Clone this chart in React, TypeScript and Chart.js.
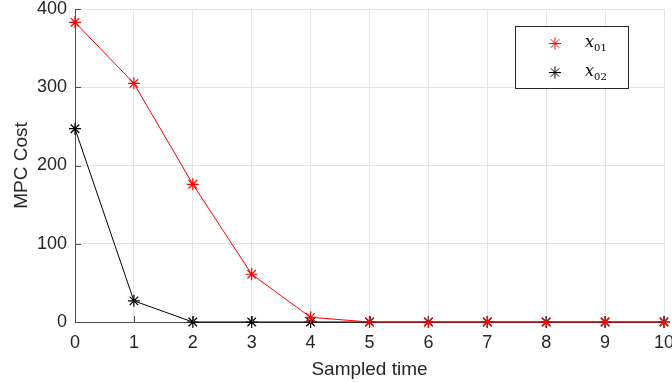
import React, { useEffect, useRef } from "react";
import { Chart, registerables } from "chart.js";

Chart.register(...registerables);

const times = [0, 1, 2, 3, 4, 5, 6, 7, 8, 9, 10];
const x01 = [383, 305, 176, 61, 6, 0, 0, 0, 0, 0, 0];
const x02 = [247, 27, 0, 0, 0, 0, 0, 0, 0, 0, 0];
const legendNames = ["01", "02"];
const seriesColors = ["#ff0000", "#000000"];

const AXIS_COLOR = "#4d4d4d";
const GRID_COLOR = "#e5e5e5";
const TEXT_COLOR = "#262626";

const inwardTicks = {
  id: "inwardTicks",
  afterDraw(chart: any) {
    const { ctx, chartArea, scales } = chart;
    ctx.save();
    ctx.strokeStyle = AXIS_COLOR;
    ctx.lineWidth = 1;
    const xs = scales.x;
    const ys = scales.y;
    xs.ticks.forEach((t: any) => {
      const px = Math.round(xs.getPixelForValue(t.value)) + 0.5;
      ctx.beginPath();
      ctx.moveTo(px, chartArea.bottom);
      ctx.lineTo(px, chartArea.bottom - 6);
      ctx.stroke();
    });
    ys.ticks.forEach((t: any) => {
      const py = Math.round(ys.getPixelForValue(t.value)) + 0.5;
      ctx.beginPath();
      ctx.moveTo(chartArea.left, py);
      ctx.lineTo(chartArea.left + 6, py);
      ctx.stroke();
    });
    ctx.restore();
  },
};

function drawStar(ctx: CanvasRenderingContext2D, x: number, y: number, r: number, color: string) {
  ctx.save();
  ctx.strokeStyle = color;
  ctx.lineWidth = 1;
  ctx.beginPath();
  ctx.moveTo(x - r, y);
  ctx.lineTo(x + r, y);
  ctx.moveTo(x, y - r);
  ctx.lineTo(x, y + r);
  const d = r * Math.SQRT1_2;
  ctx.moveTo(x - d, y - d);
  ctx.lineTo(x + d, y + d);
  ctx.moveTo(x - d, y + d);
  ctx.lineTo(x + d, y - d);
  ctx.stroke();
  ctx.restore();
}

const boxLegend = {
  id: "boxLegend",
  afterDraw(chart: any) {
    const { ctx } = chart;
    const left = 515.5;
    const top = 26.5;
    const w = 113;
    const h = 62;
    ctx.save();
    ctx.fillStyle = "#ffffff";
    ctx.fillRect(left, top, w, h);
    ctx.strokeStyle = "#262626";
    ctx.lineWidth = 1;
    ctx.strokeRect(left, top, w, h);
    legendNames.forEach((name, i) => {
      const cy = top + 17 + i * 29;
      drawStar(ctx, 555, cy, 6, seriesColors[i]);
      ctx.fillStyle = "#000000";
      ctx.textBaseline = "alphabetic";
      ctx.font = "italic 16px 'DejaVu Serif'";
      ctx.fillText("x", 585, cy + 3);
      const xw = ctx.measureText("x").width;
      ctx.font = "10px 'DejaVu Serif'";
      ctx.fillText(name, 585 + xw, cy + 7);
    });
    ctx.restore();
  },
};

export default function App() {
  const ref = useRef<HTMLCanvasElement>(null);
  useEffect(() => {
    document.body.style.margin = "0";
    const chart = new Chart(ref.current!, {
      type: "line",
      data: {
        datasets: [
          {
            label: "x01",
            data: times.map((t, i) => ({ x: t, y: x01[i] })),
            borderColor: seriesColors[0],
            backgroundColor: seriesColors[0],
            borderWidth: 1,
            pointStyle: "star",
            pointRadius: 6,
            pointBorderWidth: 1.2,
            pointBorderColor: seriesColors[0],
            clip: false as any,
          },
          {
            label: "x02",
            data: times.map((t, i) => ({ x: t, y: x02[i] })),
            borderColor: seriesColors[1],
            backgroundColor: seriesColors[1],
            borderWidth: 1,
            pointStyle: "star",
            pointRadius: 6,
            pointBorderWidth: 1.2,
            pointBorderColor: seriesColors[1],
            clip: false as any,
          },
        ],
      },
      options: {
        animation: false,
        responsive: false,
        layout: { padding: { top: 9, right: 8, left: 0, bottom: 0 } },
        plugins: { legend: { display: false }, tooltip: { enabled: false } },
        scales: {
          x: {
            type: "linear",
            min: 0,
            max: 10,
            ticks: {
              stepSize: 1,
              color: TEXT_COLOR,
              font: { family: "'Liberation Sans', Arial, sans-serif", size: 18 },
              padding: 10,
              maxRotation: 0,
            },
            grid: { color: GRID_COLOR, drawTicks: false },
            border: { display: true, color: AXIS_COLOR, width: 1 },
            title: {
              display: true,
              text: "Sampled time",
              color: TEXT_COLOR,
              font: { family: "'Liberation Sans', Arial, sans-serif", size: 19 },
              padding: { top: 2, bottom: 2 },
            },
            afterFit(scale: any) {
              scale.height = 61;
              scale.paddingLeft = 0;
              scale.paddingRight = 0;
            },
          },
          y: {
            type: "linear",
            min: 0,
            max: 400,
            ticks: {
              stepSize: 100,
              color: TEXT_COLOR,
              font: { family: "'Liberation Sans', Arial, sans-serif", size: 18 },
              padding: 8,
            },
            grid: { color: GRID_COLOR, drawTicks: false },
            border: { display: true, color: AXIS_COLOR, width: 1 },
            title: {
              display: true,
              text: "MPC Cost",
              color: TEXT_COLOR,
              font: { family: "'Liberation Sans', Arial, sans-serif", size: 19 },
              padding: { top: 10, bottom: 0 },
            },
            afterFit(scale: any) {
              scale.width = 75;
              scale.paddingTop = 0;
              scale.paddingBottom = 0;
            },
          },
        },
      },
      plugins: [inwardTicks, boxLegend],
    });
    return () => chart.destroy();
  }, []);
  return (
    <div style={{ width: 672, height: 383 }}>
      <canvas ref={ref} width={672} height={383} style={{ display: "block" }} />
    </div>
  );
}
